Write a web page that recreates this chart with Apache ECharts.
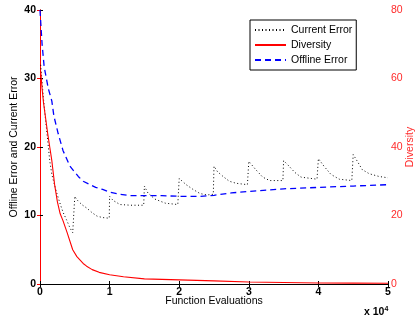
<!DOCTYPE html>
<html>
<head>
<meta charset="utf-8">
<script src="https://cdn.jsdelivr.net/npm/echarts@6/dist/echarts.min.js"></script>
<style>
html,body{margin:0;padding:0;background:#fff;}
#chart{width:416px;height:322px;}
</style>
</head>
<body>
<div id="chart"></div>
<script>
// x values are function evaluations
var xTicks = [0, 1, 2, 3, 4, 5]; // x 10^4
var leftTicks = [0, 10, 20, 30, 40];
var rightTicks = [0, 20, 40, 60, 80];

var currentError = [
  [100, 32], [300, 29.5], [500, 27], [800, 24], [1100, 21], [1400, 18], [1700, 16], [2000, 14.8],
  [2400, 13.3], [2800, 12], [3300, 10.5], [3800, 9.4], [4300, 8.2], [4700, 7.5], [4950, 7.6],
  [5000, 12.8], [5300, 12.3], [6000, 11.6], [6700, 11.1], [7500, 10.4], [8200, 9.9], [9000, 9.7], [9950, 9.6],
  [10000, 12.8], [10500, 12.2], [11500, 11.6], [13000, 11.5], [14900, 11.5],
  [15000, 14.3], [15500, 13.3], [16500, 12.4], [18000, 11.8], [19800, 11.6],
  [20000, 15.4], [21000, 14.5], [22000, 13.8], [23000, 13.2], [24000, 13.0], [24900, 13.1],
  [25000, 17.2], [25500, 16.4], [26300, 15.7], [27200, 15.0], [28200, 14.7], [29800, 14.5],
  [30000, 17.9], [31000, 16.7], [32000, 15.6], [33000, 15.1], [34900, 15.1],
  [35000, 18.0], [35600, 17.4], [36600, 16.3], [37500, 15.6], [39800, 15.3],
  [40000, 18.3], [40800, 17.2], [41800, 16.0], [43000, 15.3], [44800, 15.1],
  [45000, 18.9], [45600, 17.9], [46300, 16.7], [47300, 16.1], [48700, 15.7], [50000, 15.5]
];

var offlineError = [
  [0, 40], [300, 35], [600, 31.7], [1200, 28.5], [1700, 26.7], [2000, 24.5], [2600, 22], [3300, 19.5],
  [4300, 17.2], [5500, 15.7], [6200, 15.0], [7000, 14.6], [8000, 14.1], [9000, 13.8], [10000, 13.4],
  [11500, 13.1], [13000, 12.9], [15000, 12.9], [17500, 12.9], [20000, 12.8], [23000, 12.8],
  [25000, 12.95], [27500, 13.3], [30000, 13.5], [35000, 13.9], [40000, 14.1], [45000, 14.3], [50000, 14.5]
];

var diversity = [
  [100, 62], [300, 57], [500, 53], [700, 50], [1100, 44], [1400, 40], [1700, 36], [2100, 29],
  [2500, 24], [2900, 20.5], [3300, 18.5], [3900, 15], [4700, 10], [5300, 8], [6200, 6], [6700, 5.2],
  [7500, 4.2], [8500, 3.4], [10000, 2.7], [12000, 2.1], [15000, 1.5], [20000, 1.2], [25000, 0.9],
  [30000, 0.6], [35000, 0.45], [40000, 0.3], [45000, 0.25], [50000, 0.2]
];

var FONT = 'Liberation Sans, Arial, sans-serif';
var chart = echarts.init(document.getElementById('chart'), null, {renderer: 'canvas'});

var option = {
  animation: false,
  backgroundColor: '#fff',
  grid: {left: 40, right: 28, top: 10, bottom: 38, containLabel: false, outerBoundsMode: 'none'},
  legend: {
    orient: 'vertical',
    left: 250, top: 20,
    padding: [4, 4, 4, 4],
    itemWidth: 31, itemHeight: 10, itemGap: 3,
    borderColor: '#000', borderWidth: 1, backgroundColor: '#fff', borderRadius: 0,
    itemStyle: {opacity: 0},
    textStyle: {fontFamily: FONT, fontSize: 10.5, color: '#000', lineHeight: 12},
    data: ['Current Error', 'Diversity', 'Offline Error']
  },
  xAxis: [{
    type: 'value', min: 0, max: 50000, interval: 10000, position: 'bottom',
    axisLine: {show: true, lineStyle: {color: '#000', width: 1}},
    axisTick: {show: true, inside: true, length: 3, lineStyle: {color: '#000'}},
    axisLabel: {
      margin: 3, color: '#000', fontFamily: FONT, fontSize: 10.5, fontWeight: 'bold',
      formatter: function (v) { return String(xTicks[Math.round(v / 10000)]); }
    },
    splitLine: {show: false},
    name: 'Function Evaluations', nameLocation: 'middle', nameGap: 12, nameMoveOverlap: false,
    nameTextStyle: {fontFamily: FONT, fontSize: 10.5, color: '#000'}
  }, {
    type: 'value', min: 0, max: 50000, interval: 10000, position: 'top',
    axisLine: {show: true, lineStyle: {color: '#000', width: 1}},
    axisTick: {show: true, inside: true, length: 3, lineStyle: {color: '#000'}},
    axisLabel: {show: false}, splitLine: {show: false}
  }],
  yAxis: [{
    type: 'value', min: 0, max: 40, interval: 10, position: 'left',
    axisLine: {show: true, lineStyle: {color: '#000', width: 1}},
    axisTick: {show: true, inside: true, length: 3, lineStyle: {color: '#000'}},
    axisLabel: {
      margin: 4, color: '#000', fontFamily: FONT, fontSize: 10.5, fontWeight: 'bold',
      formatter: function (v) { return String(leftTicks[Math.round(v / 10)]); }
    },
    splitLine: {show: false},
    name: 'Offline Error and Current Error', nameLocation: 'middle', nameGap: 20, nameMoveOverlap: false,
    nameTextStyle: {fontFamily: FONT, fontSize: 10.5, color: '#000'}
  }, {
    type: 'value', min: 0, max: 80, interval: 20, position: 'right',
    axisLine: {show: true, lineStyle: {color: '#ff0000', width: 1}},
    axisTick: {show: true, inside: true, length: 3, lineStyle: {color: '#ff0000'}},
    axisLabel: {
      margin: 3, color: '#ff2a2a', fontFamily: FONT, fontSize: 10.5,
      formatter: function (v) { return String(rightTicks[Math.round(v / 20)]); }
    },
    splitLine: {show: false},
    name: 'Diversity', nameLocation: 'middle', nameGap: 17, nameMoveOverlap: false,
    nameTextStyle: {fontFamily: FONT, fontSize: 10.5, color: '#ff2a2a'}
  }],
  graphic: [{
    type: 'text', left: 364, top: 306,
    style: {
      text: 'x 10{s|4}',
      fontFamily: FONT, fontSize: 10.5, fontWeight: 'bold', fill: '#000',
      rich: {s: {fontSize: 7, fontWeight: 'bold', verticalAlign: 'top', padding: [0, 0, 6, 0], fontFamily: FONT}}
    }
  }],
  series: [{
    name: 'Current Error', type: 'line', xAxisIndex: 0, yAxisIndex: 0,
    data: currentError, symbol: 'none', z: 2,
    lineStyle: {color: '#000', width: 1, type: [1, 2.5]},
    itemStyle: {color: '#000'}
  }, {
    name: 'Offline Error', type: 'line', xAxisIndex: 0, yAxisIndex: 0,
    data: offlineError, symbol: 'none', smooth: false, z: 3,
    lineStyle: {color: '#0000ff', width: 1.3, type: [6, 4]},
    itemStyle: {color: '#0000ff'}
  }, {
    name: 'Diversity', type: 'line', xAxisIndex: 0, yAxisIndex: 1,
    data: diversity, symbol: 'none', z: 4,
    lineStyle: {color: '#ff0000', width: 1.1},
    itemStyle: {color: '#ff0000'}
  }]
};
chart.setOption(option);
</script>
</body>
</html>
